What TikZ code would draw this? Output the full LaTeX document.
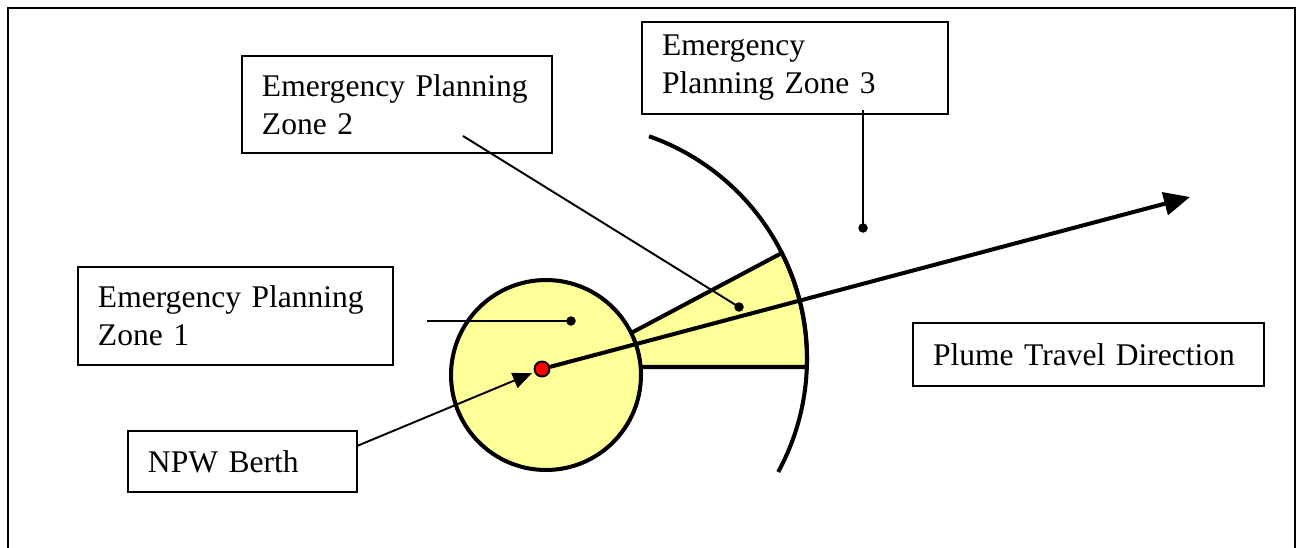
\documentclass[tikz,border=0pt]{standalone}
\usepackage{fontspec}
\setmainfont{Liberation Serif}
\usepackage{tikz}
\usetikzlibrary{arrows.meta, positioning}

\definecolor{zonefill}{RGB}{255,255,153}

\tikzset{
  zonebox/.style={draw, line width=1.1pt, anchor=north west, align=left,
    inner xsep=0.4cm, inner ysep=0pt, outer sep=0pt},
  leader/.style={line width=1.1pt},
  spot/.style={circle, fill=black, inner sep=0pt, minimum size=0.19cm},
  edge3/.style={line width=2.3pt},
}

\begin{document}
\begin{tikzpicture}[x=0.02cm, y=-0.02cm, font=\fontsize{17.95}{21.6}\selectfont]
  \useasboundingbox (0,0) rectangle (1299,548);
  % frame, open at the bottom
  \draw[line width=1.2pt] (8,548) -- (8,8) -- (1295,8) -- (1295,548);
  %
  \coordinate (c3) at (571,359);
  \coordinate (apex) at (567,367);
  % wedge of zone 2 and edge of zone 3
  \draw[edge3, fill=zonefill] (apex) -- ++(239.9,0)
    arc[start angle=1.94, end angle=-26.7, radius=236] -- cycle;
  \draw[edge3] (c3) ++(-70.7:236) arc[start angle=-70.7, end angle=28.6, radius=236];
  % zone 1
  \node[circle, draw, edge3, fill=zonefill, minimum size=3.8cm, inner sep=0pt] (ring) at (546,375) {};
  %
  \node[zonebox, text width=5.5cm, minimum height=1.96cm] (zone1) at (78,267) {Emergency Planning\\Zone 1};
  \node[zonebox, text width=5.4cm, minimum height=1.94cm] (zone2) at (242,56) {Emergency Planning\\Zone 2};
  \node[zonebox, text width=5.32cm, minimum height=1.84cm] (zone3) at (642,22) {Emergency\\Planning Zone 3};
  \node[zonebox, text width=3.78cm, minimum height=1.22cm] (npw) at (128,431) {NPW Berth};
  \node[zonebox, text width=6.22cm, minimum height=1.26cm] (plume) at (913,323) {Plume Travel Direction};
  %
  \node[spot] (dot1) at (571,321) {};
  \node[spot] (dot2) at (739,307) {};
  \node[spot] (dot3) at (863,228) {};
  \coordinate (lead1) at (427,321);
  \coordinate (lead2) at (463,136);
  \coordinate (lead3) at (863,110);
  \coordinate (lead4) at ([yshift=0.31cm]npw.east);
  \coordinate (tip) at (1190,197);
  %
  \draw[leader] (lead1) -- (dot1.center);
  \draw[leader] (lead2) -- (dot2.center);
  \draw[leader] (lead3) -- (dot3.center);
  %
  \node[circle, draw, fill=red, line width=1.1pt, minimum size=0.3cm, inner sep=0pt] (berth) at (542,369) {};
  \draw[edge3, -{Triangle[length=0.52cm, width=0.46cm]}] (berth) -- (tip);
  \draw[leader, shorten >=0.05cm, -{Triangle[length=0.38cm, width=0.32cm]}] (lead4) -- (berth);
\end{tikzpicture}
\end{document}
